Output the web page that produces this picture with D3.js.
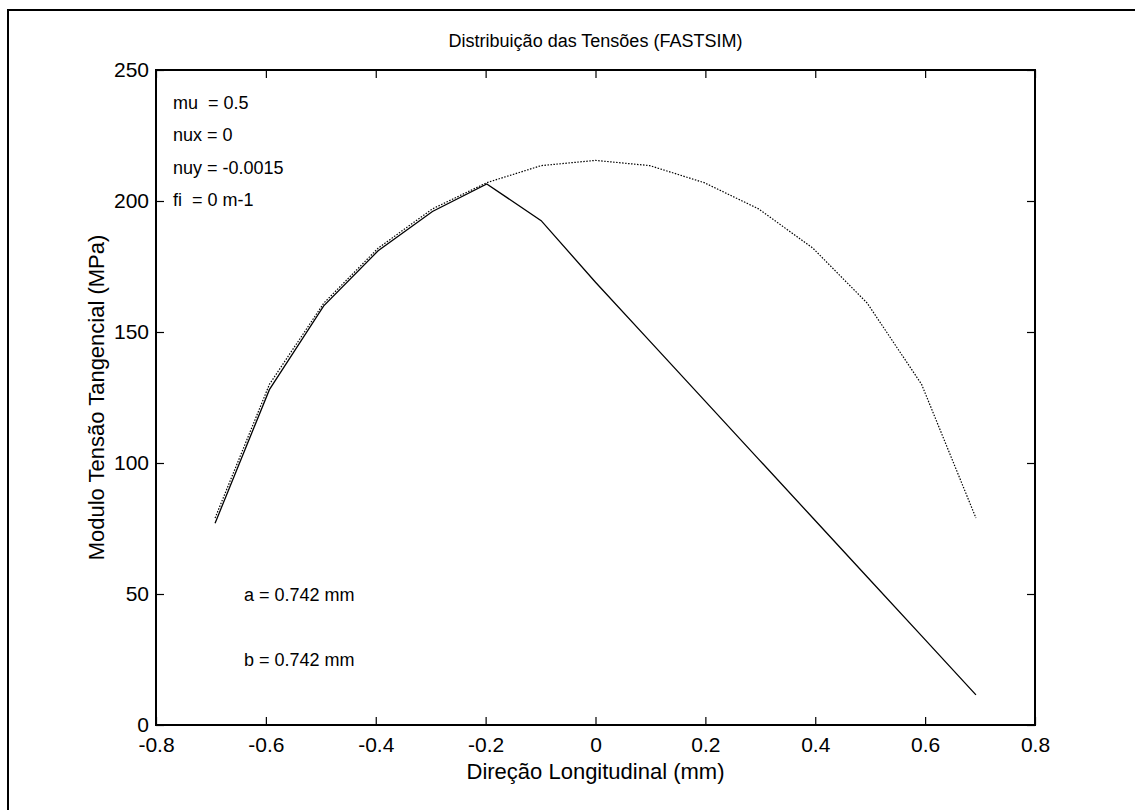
<!DOCTYPE html>
<html>
<head>
<meta charset="utf-8">
<script src="https://cdn.jsdelivr.net/npm/d3@7"></script>
<style>
  body { margin: 0; background: #fff; }
  svg { font-family: "Liberation Sans", Arial, sans-serif; }
  text { white-space: pre; }
</style>
</head>
<body>
<div id="chart"></div>
<script>
// posicoes longitudinais (mm)
var xPos = [-0.6925, -0.5936, -0.4947, -0.3957, -0.2968, -0.1979, -0.0989, 0,
            0.0989, 0.1979, 0.2968, 0.3957, 0.4947, 0.5936, 0.6925];
// modulo da tensao tangencial (MPa)
var tensao = [77, 128, 160, 181, 196, 206.5, 192.5, 169,
              146.5, 124, 101.5, 79, 56.5, 34, 11.5];
// limite de tracao mu*p
var limite = [79, 130, 161, 182, 197, 207, 213.5, 215.5,
              213.5, 207, 197, 182, 161, 130, 79];

var xTicks = [-0.8, -0.6, -0.4, -0.2, 0, 0.2, 0.4, 0.6, 0.8];
var yTicks = [0, 50, 100, 150, 200, 250];

var params = ["mu  = 0.5", "nux = 0", "nuy = -0.0015", "fi  = 0 m-1"];
var dims = ["a = 0.742 mm", "b = 0.742 mm"];

var W = 1135, H = 810;
var margin = {top: 70, left: 156, right: W - 1035, bottom: H - 725};
var width = W - margin.left - margin.right,
    height = H - margin.top - margin.bottom;

var x = d3.scaleLinear().domain([-0.8, 0.8]).range([0, width]);
var y = d3.scaleLinear().domain([0, 250]).range([height, 0]);

var svg = d3.select("#chart").append("svg")
  .attr("width", W)
  .attr("height", H);

// moldura externa
svg.append("path")
  .attr("d", "M8," + H + "V10H" + W)
  .attr("fill", "none")
  .attr("stroke", "#000")
  .attr("stroke-width", 2);

var g = svg.append("g")
  .attr("transform", "translate(" + margin.left + "," + margin.top + ")");

function fmtX(d) {
  return d === 0 ? "0" : d3.format(".1f")(d).replace("\u2212", "-");
}

function styleTicks(a) {
  a.select(".domain").remove();
  a.selectAll("line").attr("stroke-width", 1.2);
  a.selectAll("text").attr("font-size", 21).attr("fill", "#000")
    .attr("font-family", "Liberation Sans, Arial, sans-serif");
}

// eixos com ticks para dentro
var tickLen = 8;
g.append("g")
  .attr("transform", "translate(0," + height + ")")
  .call(d3.axisBottom(x).tickValues(xTicks).tickSize(-tickLen).tickPadding(12)
    .tickFormat(fmtX))
  .call(styleTicks);

g.append("g")
  .call(d3.axisTop(x).tickValues(xTicks).tickSize(-tickLen).tickFormat(""))
  .call(styleTicks);

g.append("g")
  .call(d3.axisLeft(y).tickValues(yTicks).tickSize(-tickLen).tickPadding(7))
  .call(styleTicks);

g.append("g")
  .attr("transform", "translate(" + width + ",0)")
  .call(d3.axisRight(y).tickValues(yTicks).tickSize(-tickLen).tickFormat(""))
  .call(styleTicks);

g.append("rect")
  .attr("width", width)
  .attr("height", height)
  .attr("fill", "none")
  .attr("stroke", "#000")
  .attr("stroke-width", 2);

var line = d3.line()
  .x(function(d) { return x(d[0]); })
  .y(function(d) { return y(d[1]); });

// limite (pontilhado)
g.append("path")
  .datum(d3.zip(xPos, limite))
  .attr("d", line)
  .attr("fill", "none")
  .attr("stroke", "#000")
  .attr("stroke-width", 1.2)
  .attr("stroke-dasharray", "1.5,1.5");

// tensao tangencial
g.append("path")
  .datum(d3.zip(xPos, tensao))
  .attr("d", line)
  .attr("fill", "none")
  .attr("stroke", "#000")
  .attr("stroke-width", 1.3);

// anotacoes
g.selectAll(".param")
  .data(params)
  .enter().append("text")
  .attr("class", "param")
  .attr("x", 17)
  .attr("y", function(d, i) { return 39 + i * 32.4; })
  .attr("font-size", 18)
  .text(function(d) { return d; });

g.selectAll(".dim")
  .data(dims)
  .enter().append("text")
  .attr("class", "dim")
  .attr("x", 88)
  .attr("y", function(d, i) { return 531 + i * 65; })
  .attr("font-size", 18)
  .text(function(d) { return d; });

// titulos
svg.append("text")
  .attr("x", margin.left + width / 2)
  .attr("y", 47)
  .attr("text-anchor", "middle")
  .attr("font-size", 18)
  .text("Distribuição das Tensões (FASTSIM)");

svg.append("text")
  .attr("x", margin.left + width / 2)
  .attr("y", 779)
  .attr("text-anchor", "middle")
  .attr("font-size", 22)
  .text("Direção Longitudinal (mm)");

svg.append("text")
  .attr("transform", "translate(104," + (margin.top + height / 2) + ") rotate(-90)")
  .attr("text-anchor", "middle")
  .attr("font-size", 22)
  .text("Modulo Tensão Tangencial (MPa)");
</script>
</body>
</html>
